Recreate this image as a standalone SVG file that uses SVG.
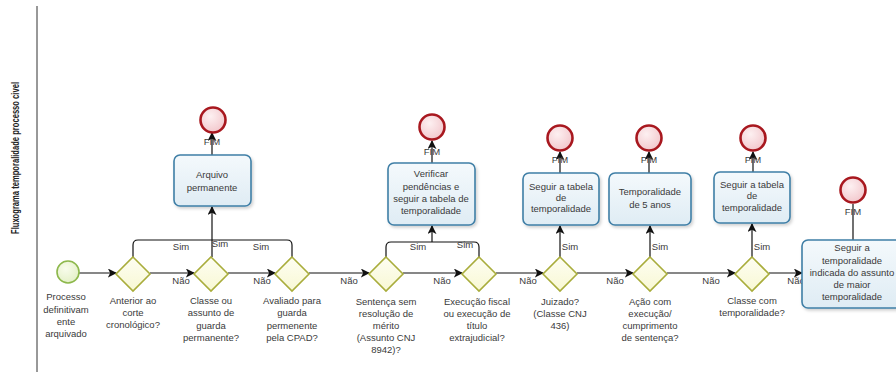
<svg xmlns="http://www.w3.org/2000/svg" width="896" height="386" viewBox="0 0 896 386">
<style>
  text { font-family: "Liberation Sans", Arial, sans-serif; font-size: 9.5px; fill: #3a3a3a; text-anchor: middle; }
  .title { font-weight: bold; font-size: 10.5px; fill: #222; }
  .task { fill: url(#taskGrad); stroke: #3f7fa6; stroke-width: 1.6; filter: url(#shadow); }
  .gw { fill: url(#gwGrad); stroke: #a9ad3c; stroke-width: 1.6; }
  .end { fill: url(#endGrad); stroke: #a8181f; stroke-width: 2.6; }
  .start { fill: url(#startGrad); stroke: #8db84c; stroke-width: 1.6; }
  .flow { fill: none; stroke: #111; stroke-width: 1.2; }
  .arr { marker-end: url(#ah); }
</style>
<defs>
  <linearGradient id="taskGrad" x1="0" y1="0" x2="0" y2="1">
    <stop offset="0" stop-color="#f4f9fc"/>
    <stop offset="1" stop-color="#dfecf4"/>
  </linearGradient>
  <linearGradient id="gwGrad" x1="0" y1="0" x2="0" y2="1">
    <stop offset="0" stop-color="#fefef2"/>
    <stop offset="1" stop-color="#f8f8d4"/>
  </linearGradient>
  <radialGradient id="endGrad" cx="0.4" cy="0.35" r="0.7">
    <stop offset="0" stop-color="#fdf0f1"/>
    <stop offset="1" stop-color="#f2c6cb"/>
  </radialGradient>
  <radialGradient id="startGrad" cx="0.4" cy="0.35" r="0.7">
    <stop offset="0" stop-color="#f8fcec"/>
    <stop offset="1" stop-color="#e3f0c6"/>
  </radialGradient>
  <filter id="shadow" x="-10%" y="-10%" width="130%" height="130%">
    <feDropShadow dx="1.5" dy="2" stdDeviation="1.5" flood-color="#000" flood-opacity="0.18"/>
  </filter>
  <marker id="ah" viewBox="0 0 10 10" refX="9" refY="5" markerWidth="9" markerHeight="9" markerUnits="userSpaceOnUse" orient="auto">
    <path d="M0,0 L10,5 L0,10 L2.5,5 Z" fill="#111"/>
  </marker>
</defs>

<line x1="37" y1="6" x2="37" y2="372" stroke="#333" stroke-width="1"/>
<text class="title" transform="translate(18.5,158) rotate(-90)" textLength="152" lengthAdjust="spacingAndGlyphs">Fluxograma temporalidade processo civel</text>

<g id="connectors">
  <line class="flow arr" x1="79" y1="273" x2="116" y2="273"/>
  <line class="flow arr" x1="150" y1="273" x2="194" y2="273"/>
  <line class="flow arr" x1="228" y1="273" x2="275" y2="273"/>
  <line class="flow arr" x1="309" y1="273" x2="369" y2="273"/>
  <line class="flow arr" x1="403" y1="273" x2="462" y2="273"/>
  <line class="flow arr" x1="496" y1="273" x2="543" y2="273"/>
  <line class="flow arr" x1="577" y1="273" x2="633" y2="273"/>
  <line class="flow arr" x1="667" y1="273" x2="735" y2="273"/>
  <line class="flow arr" x1="769" y1="273" x2="802" y2="273"/>
  <path class="flow" d="M133,257 V245 Q133,240 138,240 H287 Q292,240 292,245 V257"/>
  <line class="flow arr" x1="212" y1="257" x2="212" y2="207"/>
  <path class="flow" d="M386,257 V247 Q386,242 391,242 H474 Q479,242 479,247 V257"/>
  <line class="flow arr" x1="432" y1="242" x2="432" y2="226"/>
  <line class="flow arr" x1="560" y1="257" x2="560" y2="226"/>
  <line class="flow arr" x1="650" y1="257" x2="650" y2="226"/>
  <line class="flow arr" x1="752" y1="257" x2="752" y2="224"/>
  <line class="flow arr" x1="212" y1="155" x2="212" y2="133"/>
  <line class="flow arr" x1="432" y1="163" x2="432" y2="141"/>
  <line class="flow arr" x1="560" y1="173" x2="560" y2="152"/>
  <line class="flow arr" x1="649" y1="173" x2="649" y2="152"/>
  <line class="flow arr" x1="753" y1="172" x2="753" y2="152"/>
  <line class="flow" x1="853" y1="240" x2="853" y2="204" stroke="#555"/>
  <text x="181" y="284">Não</text>
  <text x="262" y="284">Não</text>
  <text x="349" y="284">Não</text>
  <text x="442" y="284">Não</text>
  <text x="528" y="284">Não</text>
  <text x="615" y="284">Não</text>
  <text x="711" y="284">Não</text>
  <text x="796" y="284">Não</text>
  <text x="181" y="250">Sim</text>
  <text x="220" y="247">Sim</text>
  <text x="261" y="250">Sim</text>
  <text x="418" y="250">Sim</text>
  <text x="465" y="248">Sim</text>
  <text x="570" y="250">Sim</text>
  <text x="660" y="250">Sim</text>
  <text x="762" y="250">Sim</text>
</g>

<g id="start">
  <circle class="start" cx="68" cy="272" r="11"/>
  <text x="66" y="300">Processo</text>
  <text x="66" y="313">definitivam</text>
  <text x="66" y="325">ente</text>
  <text x="66" y="337">arquivado</text>
</g>

<g id="gw1">
  <path class="gw" d="M133,257 L150,274 L133,291 L116,274 Z"/>
  <text x="133" y="304">Anterior ao</text>
  <text x="133" y="316">corte</text>
  <text x="133" y="328">cronológico?</text>
</g>
<g id="gw2">
  <path class="gw" d="M211,257 L228,274 L211,291 L194,274 Z"/>
  <text x="211" y="304">Classe ou</text>
  <text x="211" y="316">assunto de</text>
  <text x="211" y="329">guarda</text>
  <text x="211" y="341">permanente?</text>
</g>
<g id="gw3">
  <path class="gw" d="M292,257 L309,274 L292,291 L275,274 Z"/>
  <text x="292" y="304">Avaliado para</text>
  <text x="292" y="316">guarda</text>
  <text x="292" y="329">permenente</text>
  <text x="292" y="341">pela CPAD?</text>
</g>
<g id="gw4">
  <path class="gw" d="M386,257 L403,274 L386,291 L369,274 Z"/>
  <text x="386" y="305">Sentença sem</text>
  <text x="386" y="317">resolução de</text>
  <text x="386" y="329">mérito</text>
  <text x="386" y="341">(Assunto CNJ</text>
  <text x="386" y="353">8942)?</text>
</g>
<g id="gw5">
  <path class="gw" d="M479,257 L496,274 L479,291 L462,274 Z"/>
  <text x="477" y="305">Execução fiscal</text>
  <text x="477" y="317">ou execução de</text>
  <text x="477" y="329">título</text>
  <text x="477" y="341">extrajudicial?</text>
</g>
<g id="gw6">
  <path class="gw" d="M560,257 L577,274 L560,291 L543,274 Z"/>
  <text x="560" y="305">Juizado?</text>
  <text x="560" y="317">(Classe CNJ</text>
  <text x="560" y="329">436)</text>
</g>
<g id="gw7">
  <path class="gw" d="M650,257 L667,274 L650,291 L633,274 Z"/>
  <text x="650" y="305">Ação com</text>
  <text x="650" y="317">execução/</text>
  <text x="650" y="329">cumprimento</text>
  <text x="650" y="341">de sentença?</text>
</g>
<g id="gw8">
  <path class="gw" d="M752,257 L769,274 L752,291 L735,274 Z"/>
  <text x="752" y="304">Classe com</text>
  <text x="752" y="316">temporalidade?</text>
</g>

<g id="task1">
  <rect class="task" x="174" y="155" width="77" height="51" rx="6"/>
  <text x="212" y="178">Arquivo</text>
  <text x="212" y="191">permanente</text>
</g>
<g id="task2">
  <rect class="task" x="388" y="163" width="87" height="62" rx="6"/>
  <text x="431" y="177">Verificar</text>
  <text x="431" y="190">pendências e</text>
  <text x="431" y="202">seguir a tabela de</text>
  <text x="431" y="214">temporalidade</text>
</g>
<g id="task3">
  <rect class="task" x="523" y="173" width="76" height="52" rx="6"/>
  <text x="561" y="190">Seguir a  tabela</text>
  <text x="561" y="201">de</text>
  <text x="561" y="212">temporalidade</text>
</g>
<g id="task4">
  <rect class="task" x="609" y="173" width="82" height="52" rx="6"/>
  <text x="650" y="195">Temporalidade</text>
  <text x="650" y="208">de 5 anos</text>
</g>
<g id="task5">
  <rect class="task" x="714" y="172" width="76" height="51" rx="6"/>
  <text x="752" y="188">Seguir a  tabela</text>
  <text x="752" y="199">de</text>
  <text x="752" y="211">temporalidade</text>
</g>
<g id="task6">
  <rect class="task" x="802" y="240" width="100" height="68" rx="6"/>
  <text x="852" y="251">Seguir a</text>
  <text x="852" y="264">temporalidade</text>
  <text x="852" y="276">indicada do assunto</text>
  <text x="852" y="288">de maior</text>
  <text x="852" y="300">temporalidade</text>
</g>

<g id="end1">
  <circle class="end" cx="213" cy="120" r="12.5"/>
  <text x="212" y="145">FIM</text>
</g>
<g id="end2">
  <circle class="end" cx="432" cy="127" r="12.5"/>
  <text x="432" y="155">FIM</text>
</g>
<g id="end3">
  <circle class="end" cx="560" cy="138" r="12.5"/>
  <text x="560" y="163">FIM</text>
</g>
<g id="end4">
  <circle class="end" cx="649" cy="138" r="12.5"/>
  <text x="649" y="163">FIM</text>
</g>
<g id="end5">
  <circle class="end" cx="753" cy="138" r="12.5"/>
  <text x="753" y="163">FIM</text>
</g>
<g id="end6">
  <circle class="end" cx="853" cy="190" r="12.5"/>
  <text x="853" y="215">FIM</text>
</g>
</svg>
